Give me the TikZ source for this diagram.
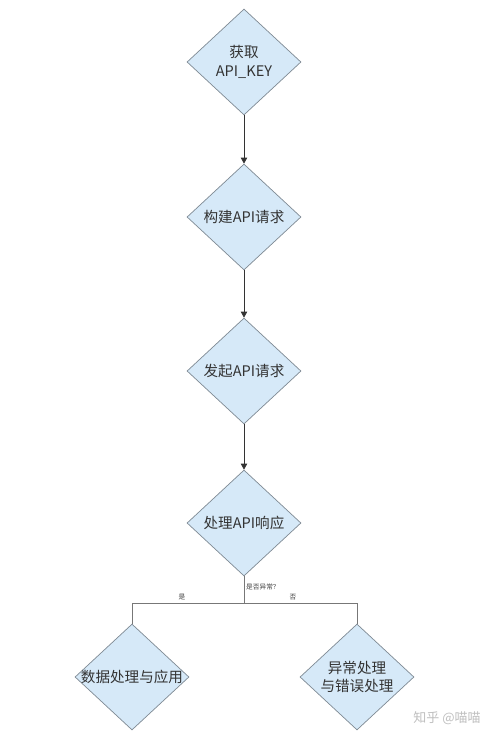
\documentclass[tikz,border=0pt]{standalone}
\usepackage{fontspec}
\setmainfont{Noto Sans CJK SC}
\usetikzlibrary{arrows.meta,shapes.geometric}
\definecolor{boxfill}{HTML}{D6E9F8}
\definecolor{boxline}{HTML}{7F8A94}
\definecolor{wire}{HTML}{777777}
\tikzset{
	stepbox/.style={diamond, draw=boxline, fill=boxfill, inner sep=0pt, minimum width=2.28cm, minimum height=2.12cm, align=center, text=black!80, font=\fontsize{8.3}{10.5}\selectfont},
	flow/.style={draw=black!80, -{Triangle[length=3.4pt,width=3.6pt]}},
	branch/.style={draw=wire},
	tag/.style={text=black!75, font=\fontsize{3.8}{4.5}\selectfont, inner sep=0.5pt}
}

\begin{document}
\begin{tikzpicture}[x=0.02cm, y=-0.02cm]
			%%%%% START %%%%%
			\useasboundingbox[fill=white] (0, 0) rectangle (500, 740);
			
			\node[stepbox] (key) at (244, 62) {获取\\API\_KEY};
			\node[stepbox] (build) at (244, 217) {构建API请求};
			\node[stepbox] (send) at (244, 371) {发起API请求};
			\node[stepbox] (handle) at (244, 523) {处理API响应};
			\node[stepbox] (useit) at (132, 677) {\makebox[0pt]{数据处理与应用}};
			\node[stepbox] (oops) at (357, 677) {异常处理\\与错误处理};
			
			\draw[flow] (key) -- (build);
			\draw[flow] (build) -- (send);
			\draw[flow] (send) -- (handle);
			
			\coordinate (split) at (244, 603);
			\draw[branch] (handle.south) -- (split);
			\draw[branch] (split) -| (useit.north);
			\draw[branch] (split) -| (oops.north);
			
			\node[tag, anchor=west] (ask) at (245, 587) {是否异常？};
			\node[tag] (yes) at (182, 597) {是};
			\node[tag] (no) at (293, 597) {否};
			
			\node[text=black!25, font=\fontsize{7.4}{9}\selectfont] (mark) at (447, 718) {知乎 @喵喵};
			%%%%% END %%%%%
		\end{tikzpicture}
\end{document}
